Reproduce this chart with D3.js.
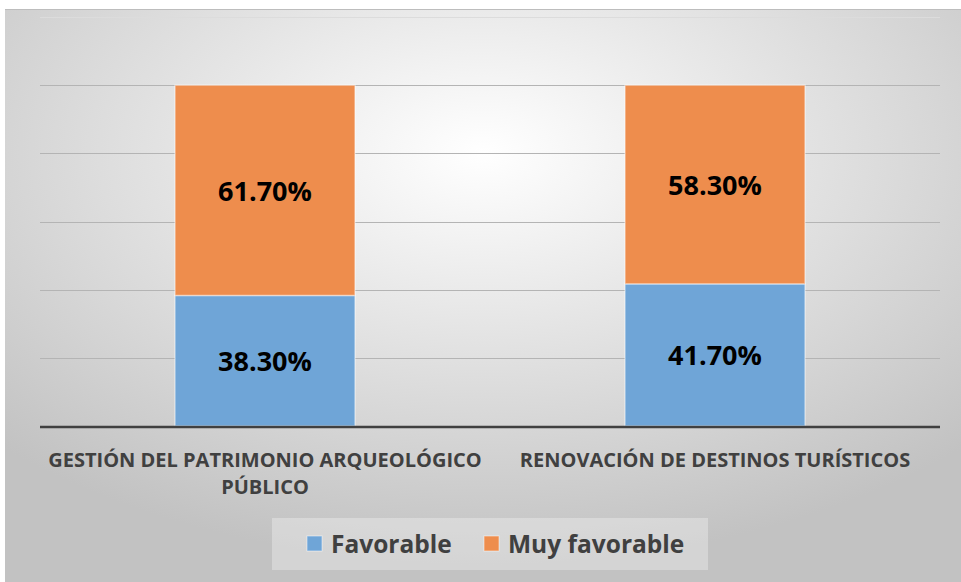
<!DOCTYPE html>
<html lang="es">
<head>
  <meta charset="UTF-8">
  <title>Gestión y renovación</title>
  <script src="https://d3js.org/d3.v7.min.js"></script>
  <style>
    html, body { margin: 0; padding: 0; background: #fff; }
    svg { display: block; }
    text { font-family: "Open Sans", "Noto Sans", sans-serif; font-weight: bold; }
  </style>
</head>
<body>
  <svg id="chart" width="961" height="582"></svg>
  <script>
    const categories = [
      ['GESTIÓN DEL PATRIMONIO ARQUEOLÓGICO', 'PÚBLICO'],
      ['RENOVACIÓN DE DESTINOS TURÍSTICOS']
    ];
    const seriesNames = ['Favorable', 'Muy favorable'];
    const favorable = [0.383, 0.417];
    const muyFavorable = [0.617, 0.583];
    const yTicks = [0, 0.2, 0.4, 0.6, 0.8, 1.0, 1.2];
    const colors = ['#6fa5d7', '#ee8d4d'];

    const W = 961, H = 582;
    const svg = d3.select('#chart');

    // background panel with radial shading
    const defs = svg.append('defs');
    const grad = defs.append('radialGradient').attr('id', 'bg')
      .attr('cx', '50%').attr('cy', '25%').attr('r', '72%');
    grad.append('stop').attr('offset', '0%').attr('stop-color', '#ffffff');
    grad.append('stop').attr('offset', '100%').attr('stop-color', '#c2c2c2');

    svg.append('rect').attr('x', 5).attr('y', 9).attr('width', W - 5).attr('height', H - 9)
      .attr('fill', 'url(#bg)');
    svg.append('line').attr('x1', 5).attr('x2', W).attr('y1', 9.5).attr('y2', 9.5)
      .attr('stroke', '#bdbdbd');

    const margin = {left: 40, right: 21, top: 17, bottom: 156};
    const x = d3.scaleBand().domain(d3.range(categories.length))
      .range([margin.left, W - margin.right]).paddingInner(0.6).paddingOuter(0.3);
    const y = d3.scaleLinear().domain([0, 1.2]).range([H - margin.bottom, margin.top]);

    // gridlines
    svg.append('g').selectAll('line').data(yTicks.slice(1)).join('line')
      .attr('x1', margin.left).attr('x2', W - margin.right)
      .attr('y1', d => Math.round(y(d)) + 0.5).attr('y2', d => Math.round(y(d)) + 0.5)
      .attr('stroke', (d, i) => i === yTicks.length - 2 ? '#dcdcdc' : '#b4b4b4')
      .attr('stroke-width', 1);

    const stacked = d3.stack().keys([0, 1])(categories.map((c, i) => [favorable[i], muyFavorable[i]]));

    const layers = svg.append('g').selectAll('g').data(stacked).join('g')
      .attr('fill', (d, i) => colors[i]);
    layers.selectAll('rect').data(d => d.map((v, i) => ({v, i}))).join('rect')
      .attr('x', d => x(d.i))
      .attr('width', x.bandwidth())
      .attr('y', d => y(d.v[1]))
      .attr('height', d => y(d.v[0]) - y(d.v[1]))
      .attr('stroke', 'rgba(255,255,255,0.45)')
      .attr('stroke-width', 1.5);

    // value labels
    layers.selectAll('text').data(d => d.map((v, i) => ({v, i}))).join('text')
      .attr('x', d => x(d.i) + x.bandwidth() / 2)
      .attr('y', d => (y(d.v[0]) + y(d.v[1])) / 2)
      .attr('dy', '0.38em')
      .attr('text-anchor', 'middle')
      .attr('fill', '#000')
      .attr('font-size', 27)
      .text(d => ((d.v[1] - d.v[0]) * 100).toFixed(2) + '%');

    // baseline axis
    svg.append('line').attr('x1', margin.left).attr('x2', W - margin.right)
      .attr('y1', y(0) + 1).attr('y2', y(0) + 1)
      .attr('stroke', '#404040').attr('stroke-width', 2.5);

    // category labels
    const cat = svg.append('g').selectAll('text').data(categories).join('text')
      .attr('x', (d, i) => x(i) + x.bandwidth() / 2)
      .attr('y', 467)
      .attr('text-anchor', 'middle')
      .attr('fill', '#404040')
      .attr('font-size', 20);
    cat.selectAll('tspan').data(d => d).join('tspan')
      .attr('x', function () { return this.parentNode.getAttribute('x'); })
      .attr('dy', (d, i) => i === 0 ? 0 : 27)
      .text(d => d);

    // legend
    const lg = svg.append('g');
    lg.append('rect').attr('x', 272).attr('y', 518).attr('width', 436).attr('height', 52)
      .attr('fill', 'rgba(255,255,255,0.3)');
    const items = [{x: 307}, {x: 484}];
    seriesNames.forEach((name, i) => {
      lg.append('rect').attr('x', items[i].x).attr('y', 536).attr('width', 15).attr('height', 15)
        .attr('fill', colors[i]).attr('stroke', 'rgba(255,255,255,0.5)');
      lg.append('text').attr('x', items[i].x + 24).attr('y', 553)
        .attr('fill', '#404040').attr('font-size', 24.5).text(name);
    });
  </script>
</body>
</html>
